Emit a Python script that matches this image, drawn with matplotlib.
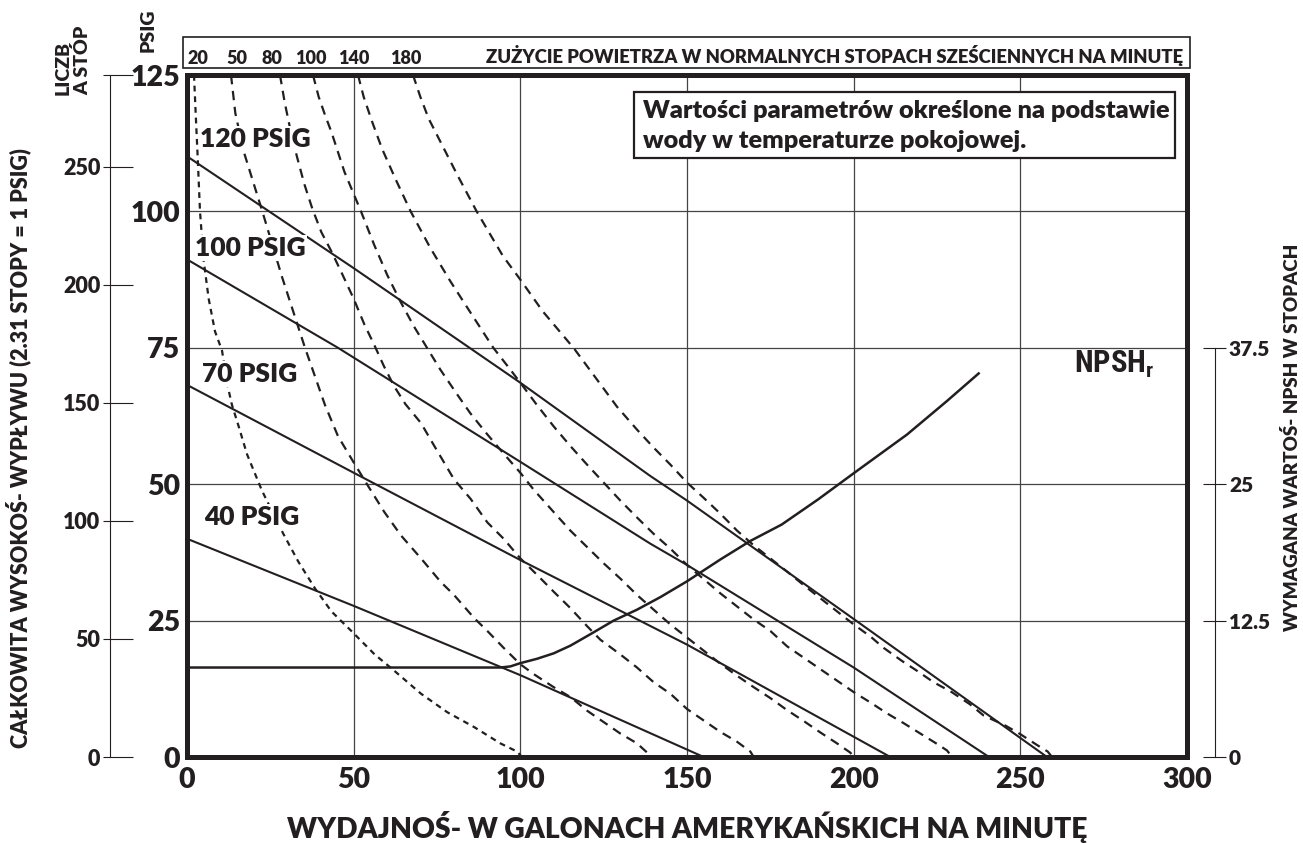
import matplotlib
matplotlib.use('Agg')
import matplotlib.pyplot as plt
from matplotlib import font_manager
from matplotlib.patches import Rectangle
from matplotlib.transforms import blended_transform_factory

# ---- values ----
flow_ticks = [0, 50, 100, 150, 200, 250, 300]
psig_ticks = [0, 25, 50, 75, 100, 125]
feet_ticks = [0, 50, 100, 150, 200, 250]
npsh_ticks = [0, 12.5, 25, 37.5]
feet_per_psi = 2.31

# solid discharge pressure lines: flow (gpm) vs head (psig)
q_120 = [0, 50, 100, 139, 150, 200, 258]
p_120 = [110.1, 89.6, 68.6, 51.5, 47.0, 25.3, 0]
q_100 = [0, 45.3, 100, 139, 150, 200, 240.6]
p_100 = [91.2, 75.0, 54.1, 39.1, 35.2, 16.4, 0]
q_70 = [0, 50, 100, 150, 211]
p_70 = [68.2, 52.1, 36.1, 20.6, 0]
q_40 = [0, 50, 100, 155]
p_40 = [40.0, 27.7, 15.0, 0]
pressure_names = ['120 PSIG', '100 PSIG', '70 PSIG', '40 PSIG']

# dashed air consumption curves (scfm)
scfm_names = ['20', '50', '80', '100', '140', '180']
q_20 = [2.1, 2.6, 3.2, 3.9, 5.0, 6.5, 8.4, 10.5, 12.2, 13.5, 15.5, 18.0, 22.5, 28.9,
        33.4, 38.4, 43.3, 49.3, 56.3, 62.2, 70.2, 78.1, 86.1, 94.0, 99.0, 100.5]
p_20 = [125, 118, 110, 100, 91, 84, 78, 74.5, 68, 64.5, 60.6, 55.5, 48.8, 40.9,
        35.8, 30.9, 26.7, 23.1, 18.8, 15.8, 11.6, 8.2, 5.5, 2.5, 1.0, 0]
q_50 = [13.2, 14.5, 17.0, 22.6, 28.5, 35.4, 41.4, 45.3, 49.8, 54.3, 59.2, 64.2, 70.2,
        76.1, 80.1, 86.1, 90.1, 95.0, 100, 104, 110, 115, 120, 125, 130, 135, 139.5]
p_50 = [125, 118, 111, 100, 88, 75, 64.5, 58.8, 54.2, 49.7, 44.9, 40.6, 36.4,
        32.1, 29.7, 25.5, 23.1, 20.0, 17.0, 15.2, 12.8, 11.0, 8.5, 6.4, 4.3, 2.5, 0]
q_80 = [27.9, 29.3, 31.0, 33.0, 35.2, 37.6, 40.3, 43.3, 46.2, 50, 53.2, 56.2, 59.1, 62.1,
        65.5, 70.2, 74.2, 80.1, 85.1, 90.1, 95, 100, 105, 110, 115, 120, 124, 130,
        135, 140, 145, 150, 155, 160, 165, 169, 170]
p_80 = [125, 120, 115, 110, 105, 100.5, 96.2, 92.7, 89.0, 84.0, 79.3, 75.5, 71.6, 68.0,
        64.7, 61.2, 57.0, 50.9, 47.3, 43.0, 40.0, 36.4, 33.4, 30.3, 27.3, 24.0, 21.5, 18.8,
        16.4, 13.7, 11.6, 8.8, 6.7, 4.6, 2.8, 1.0, 0]
q_100s = [37.8, 39.5, 41.5, 43.3, 47.2, 52.2, 56.2, 60.1, 64.1, 68, 72, 76, 81, 85, 90, 95,
          100, 104, 110, 115, 120, 125, 130, 135, 140, 145, 150, 155, 160, 165, 170, 175,
          180, 185, 190, 195, 199, 200]
p_100s = [125, 121, 117.5, 114.6, 107.3, 100, 93.8, 88.3, 83.4, 79.0, 75.0, 71.0, 66.5,
          63.0, 59.2, 55.6, 52.1, 49.0, 44.9, 41.5, 38.5, 35.5, 32.7, 29.7, 27.0, 24.3,
          21.9, 19.5, 17.1, 14.9, 12.8, 10.8, 8.6, 6.6, 4.5, 2.5, 0.8, 0]
q_140 = [51.3, 53.0, 55.5, 58.5, 62.5, 67.1, 73, 79, 85, 91.9, 97, 100, 105, 110, 115, 120,
         125, 130, 135, 140, 145, 150, 155, 160, 165, 170, 175, 180, 185, 190, 195, 200,
         205, 210, 215, 220, 225, 228, 229.5]
p_140 = [125, 121, 116.5, 111.5, 106, 100, 93.3, 87.2, 81.5, 75.0, 71.0, 68.6, 64.5, 60.6,
         57.0, 53.6, 50.3, 47.0, 43.9, 40.9, 38.2, 35.2, 32.6, 30.0, 27.6, 25.2, 23.1,
         20.3, 18.2, 16.1, 14.0, 11.9, 10.0, 8.0, 6.2, 4.3, 2.4, 1.2, 0]
q_180 = [67.8, 70, 72.5, 76, 81, 86.9, 94.8, 100, 106.7, 116.2, 122, 129, 135, 140, 145, 150,
         155, 160, 165, 170, 175, 180, 185, 190, 195, 200, 205, 209, 214.5, 219, 224, 229.4,
         234.8, 239, 245.4, 249.7, 255, 258.2, 259.5]
p_180 = [125, 121, 117, 112.8, 106.8, 100, 91.8, 87.5, 81.7, 74.8, 70.0, 64.2, 60.0, 56.7,
         53.6, 50.3, 47.5, 44.6, 41.5, 38.8, 36.4, 34.0, 31.5, 29.1, 26.7, 24.3, 22.1, 20.0,
         17.6, 15.8, 13.7, 11.9, 9.7, 7.6, 5.8, 4.3, 2.2, 1.0, 0]

# NPSH required (feet)
q_npsh = [0, 94, 97, 100, 105, 110, 115, 121, 128, 135, 142, 150, 160, 169, 178.4,
          189.3, 200, 216, 227.9, 237.5]
npsh_ft = [8.2, 8.2, 8.3, 8.6, 9.0, 9.5, 10.2, 11.25, 12.5, 13.5, 14.65, 16.1, 18.1,
           19.8, 21.3, 23.6, 26.0, 29.55, 32.6, 35.15]

# ---- style ----
W, H = 1303, 843
INK = '#231f20'
names = {f.name for f in font_manager.fontManager.ttflist}
FONT = 'Lato' if 'Lato' in names else 'DejaVu Sans'
NARROW = FONT
for cand in ['Roboto Condensed', 'Liberation Sans Narrow', 'DejaVu Sans Condensed']:
    if cand in names:
        NARROW = cand
        break
plt.rcParams['font.family'] = [FONT, 'DejaVu Sans']
plt.rcParams['font.weight'] = 'heavy'
plt.rcParams['mathtext.default'] = 'regular'
plt.rcParams['text.color'] = INK


def fx(px):
    return px / W


def fy(py):
    return 1 - py / H


fig = plt.figure(figsize=(W / 100, H / 100), dpi=100)
ax = fig.add_axes([fx(187), fy(757), 1000 / W, 682 / H])
ax.set_xlim(0, 300)
ax.set_ylim(0, 125)
ax.set_xticks(flow_ticks)
ax.set_yticks(psig_ticks)
ax.tick_params(length=0, labelsize=20.5, colors=INK)
ax.tick_params(axis='x', pad=7)
ax.tick_params(axis='y', pad=5)
ax.grid(True, color='#444444', lw=0.9)
ax.set_axisbelow(True)
for s in ax.spines.values():
    s.set_linewidth(3.6)
    s.set_color(INK)
    s.set_zorder(6)

# pressure lines
pressure_q = [q_120, q_100, q_70, q_40]
pressure_p = [p_120, p_100, p_70, p_40]
for q, p in zip(pressure_q, pressure_p):
    ax.plot(q, p, color=INK, lw=1.5, zorder=3)

# air consumption curves
scfm_q = [q_20, q_50, q_80, q_100s, q_140, q_180]
scfm_p = [p_20, p_50, p_80, p_100s, p_140, p_180]
for i, (q, p) in enumerate(zip(scfm_q, scfm_p)):
    dash = (2.6, 2.2) if i == 0 else (4.2, 3.0)
    ax.plot(q, p, color=INK, lw=1.6, dashes=dash, zorder=2)

# pressure labels
label_pos = [(3.9, 111.8), (2.4, 91.8), (4.5, 68.7), (5.1, 42.5)]
for name, (x, y) in zip(pressure_names, label_pos):
    ax.text(x, y, name, fontsize=19, va='baseline', ha='left', zorder=4,
            bbox=dict(fc='white', ec='none', pad=1.0))

ax.text(266, 70.4, 'NPSH$_r$', fontsize=22, family=NARROW, va='baseline', ha='left')

# note box
ax.add_patch(Rectangle((0.447, 0.878), 0.541, 0.097, transform=ax.transAxes,
                       fc='white', ec=INK, lw=1.6, zorder=5))
ax.text(0.456, 0.937, 'Wartości parametrów określone na podstawie',
        transform=ax.transAxes, fontsize=18.2, va='baseline', zorder=6)
ax.text(0.456, 0.893, 'wody w temperaturze pokojowej.',
        transform=ax.transAxes, fontsize=18.2, va='baseline', zorder=6)

# NPSH axis on the right
axn = ax.twinx()
axn.set_ylim(0, 62.5)
axn.plot(q_npsh, npsh_ft, color=INK, lw=1.8)
for k in ['top', 'bottom', 'left']:
    axn.spines[k].set_visible(False)
axn.spines['right'].set_position(('outward', 20.2))
axn.spines['right'].set_bounds(0, 37.5)
axn.spines['right'].set_linewidth(0.8)
axn.spines['right'].set_color(INK)
axn.yaxis.remove_overlapping_locs = False
axn.set_yticks(npsh_ticks)
axn.set_yticklabels([f'{v:g}' for v in npsh_ticks])
axn.set_yticks(npsh_ticks, minor=True)
axn.tick_params(axis='y', which='major', direction='out', length=8, width=0.8,
                labelsize=15, pad=2, colors=INK)
axn.tick_params(axis='y', which='minor', direction='in', length=8.5, width=0.8, colors=INK)

# feet axis on the far left
top_ft = 125 * feet_per_psi
axf = ax.twinx()
axf.set_ylim(0, top_ft)
axf.yaxis.tick_left()
for k in ['top', 'bottom', 'right']:
    axf.spines[k].set_visible(False)
axf.spines['left'].set_visible(True)
axf.spines['left'].set_position(('outward', 55.4))
axf.spines['left'].set_linewidth(0.8)
axf.spines['left'].set_color(INK)
axf.yaxis.remove_overlapping_locs = False
axf.set_yticks(feet_ticks + [top_ft])
axf.set_yticklabels([str(v) for v in feet_ticks] + [''])
axf.set_yticks(feet_ticks + [top_ft], minor=True)
axf.tick_params(axis='y', which='major', direction='out', length=5, width=0.8,
                labelsize=15.5, pad=2, colors=INK)
axf.tick_params(axis='y', which='minor', direction='in', length=16.5, width=0.8, colors=INK)

# header strip with air consumption values
fig.add_artist(Rectangle((fx(183), fy(68)), (1190 - 183) / W, 31 / H,
                         transform=fig.transFigure, fill=False, ec=INK, lw=1.2))
scfm_label_x = [3.3, 15.0, 25.5, 37.2, 50.1, 65.7]
tr = blended_transform_factory(ax.transData, fig.transFigure)
for name, x in zip(scfm_names, scfm_label_x):
    fig.text(x, fy(64), name, transform=tr, ha='center', va='baseline', fontsize=13)
fig.text(fx(1183), fy(63), 'ZUŻYCIE POWIETRZA W NORMALNYCH STOPACH SZEŚCIENNYCH NA MINUTĘ',
         ha='right', va='baseline', fontsize=13.3)

# axis titles
fig.text(fx(687), fy(838), 'WYDAJNOŚ- W GALONACH AMERYKAŃSKICH NA MINUTĘ',
         ha='center', va='baseline', fontsize=20.3)
fig.text(fx(18), fy(448), 'CAŁKOWITA WYSOKOŚ- WYPŁYWU (2.31 STOPY = 1 PSIG)',
         rotation=90, ha='center', va='center', fontsize=15.5)
fig.text(fx(1292), fy(437), 'WYMAGANA WARTOŚ- NPSH W STOPACH',
         rotation=90, ha='center', va='center', fontsize=13.5)
fig.text(fx(73), fy(95), 'LICZB\nA STÓP', rotation=90, ha='center', va='bottom',
         multialignment='left', fontsize=14, linespacing=1.1)
fig.text(fx(148), fy(52), 'PSIG', rotation=90, ha='center', va='bottom', fontsize=14)

fig.savefig('out.png', dpi=100, facecolor='white')
